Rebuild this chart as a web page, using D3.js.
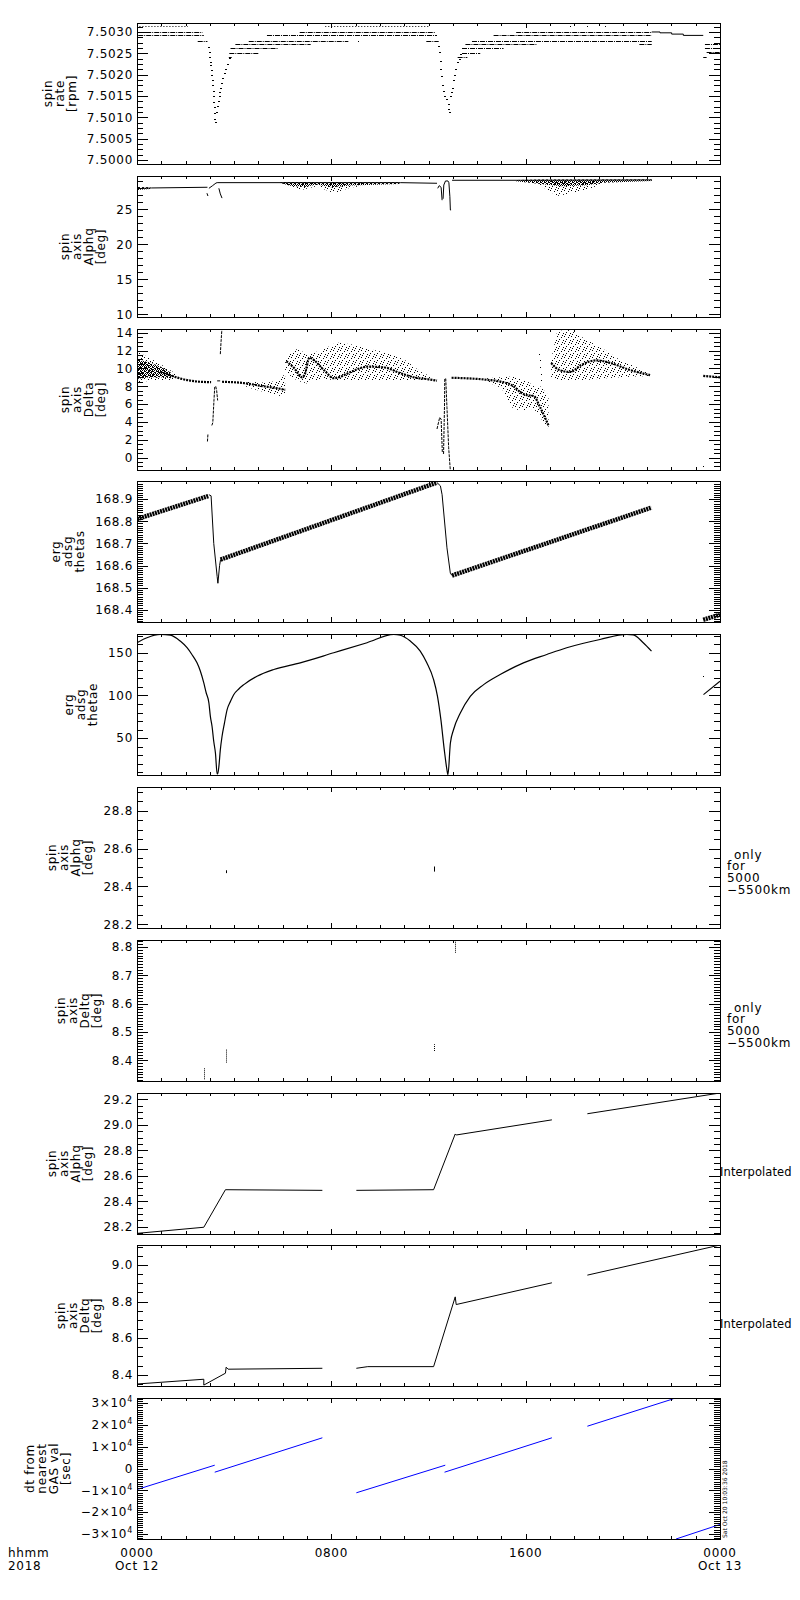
<!DOCTYPE html>
<html>
<head>
<meta charset="utf-8">
<script src="https://cdn.jsdelivr.net/npm/d3@7"></script>
<style>
  body { margin: 0; background: #fff; }
  svg { display: block; }
  text { font-family: "DejaVu Sans", sans-serif; font-size: 12px; letter-spacing: 0.7px; fill: #000; }
</style>
</head>
<body>
<div id="chart"></div>
<script>
// ---------------- data (time in hours from 0000 Oct 12) ----------------
var hourTicks = [0, 8, 16, 24];
var hourLabels = ["0000", "0800", "1600", "0000"];
var dayLabels = ["Oct 12", "", "", "Oct 13"];

// panel 1: spin rate [rpm]
var rateTicks = [7.5000, 7.5005, 7.5010, 7.5015, 7.5020, 7.5025, 7.5030];
var rateRuns = [
  [0.05, 2.70, 7.50300], [0.05, 2.75, 7.50292], [2.50, 2.90, 7.50280],
  [6.70, 12.28, 7.50300], [5.35, 12.35, 7.50292], [4.60, 8.70, 7.50280],
  [4.05, 7.15, 7.50271], [3.85, 5.80, 7.50262], [3.80, 5.00, 7.50251], [3.78, 3.90, 7.50241],
  [11.91, 12.42, 7.50280],
  [15.61, 21.19, 7.50300], [14.68, 21.19, 7.50292], [13.79, 21.19, 7.50280],
  [13.52, 16.46, 7.50271], [20.68, 21.19, 7.50271], [13.38, 15.09, 7.50262],
  [13.38, 14.13, 7.50251], [13.20, 13.60, 7.50241],
  [23.38, 24.0, 7.50271], [23.38, 24.0, 7.50262], [23.45, 24.0, 7.50252], [23.31, 23.45, 7.50241]
];
var rateSparseRuns = [[0.10, 2.10, 7.50313], [7.75, 12.07, 7.50313]];
var rateSpecks = [[17.83, 7.50313], [18.52, 7.50313], [19.27, 7.50313], [9.10, 7.50280]];
var rateDip1 = [
  [2.91, 7.50264], [2.95, 7.50252], [2.98, 7.50241], [3.00, 7.50230], [3.02, 7.50222], [3.04, 7.50210],
  [3.05, 7.50199], [3.07, 7.50188], [3.09, 7.50177], [3.11, 7.50162], [3.12, 7.50150], [3.14, 7.50137],
  [3.16, 7.50124], [3.18, 7.50110], [3.19, 7.50097], [3.20, 7.50090],
  [3.27, 7.50112], [3.30, 7.50127], [3.32, 7.50139], [3.37, 7.50150], [3.39, 7.50160], [3.41, 7.50169],
  [3.46, 7.50180], [3.50, 7.50192], [3.57, 7.50203], [3.64, 7.50214], [3.71, 7.50226], [3.78, 7.50239]
];
var rateDip2 = [
  [12.38, 7.50267], [12.42, 7.50252], [12.46, 7.50233], [12.49, 7.50214], [12.53, 7.50196],
  [12.57, 7.50177], [12.60, 7.50162], [12.64, 7.50150], [12.74, 7.50143], [12.80, 7.50131],
  [12.82, 7.50120], [12.84, 7.50112], [12.90, 7.50150], [12.92, 7.50160], [12.97, 7.50169],
  [13.01, 7.50188], [13.06, 7.50200], [13.10, 7.50214], [13.17, 7.50230], [13.24, 7.50237], [13.30, 7.50249]
];
var rateTail = [[21.19, 7.50300], [21.53, 7.50298], [22.01, 7.50295], [22.49, 7.50292], [23.31, 7.50292]];

// panel 2: spin axis alpha [deg]
var alphaTicks = [10, 15, 20, 25];
var alphaLines = [
  [[0, 27.95], [0.6, 28.05], [2.9, 28.15]],
  [[2.88, 27.3], [2.92, 26.9]],
  [[2.96, 28.0], [3.1, 28.35], [3.25, 28.75], [3.3, 28.81]],
  [[3.37, 28.0], [3.43, 27.2], [3.5, 26.6]],
  [[3.3, 28.81], [10.84, 28.81], [12.35, 28.72]],
  [[12.38, 28.0], [12.44, 28.38], [12.52, 28.14], [12.56, 26.3]],
  [[12.6, 26.5], [12.63, 28.47], [12.7, 29.05], [12.8, 29.05], [12.84, 28.8], [12.88, 26.8], [12.9, 24.9], [12.93, 24.9]],
  [[12.97, 29.15], [15.79, 29.15], [21.19, 29.2]]
];
var alphaDense = [
  [[0, 27.75, 28.2], [0.55, 27.9, 28.15]],
  [[5.9, 28.75, 28.85], [6.3, 28.35, 28.9], [6.9, 28.2, 28.9], [7.4, 28.55, 28.85], [8.0, 28.15, 28.85], [8.8, 28.4, 28.85], [10.8, 28.6, 28.85]],
  [[15.6, 29.0, 29.2], [16.6, 28.6, 29.25], [17.5, 28.3, 29.25], [18.5, 28.45, 29.25], [19.2, 28.8, 29.25], [21.19, 29.05, 29.25]]
];
var alphaSparse = [
  [[6.0, 28.5, 28.8], [6.8, 27.8, 28.8], [7.4, 28.3, 28.8], [8.1, 27.3, 28.8], [8.8, 28.1, 28.8], [9.5, 28.4, 28.8]],
  [[16.5, 28.6, 29.1], [17.3, 26.9, 29.0], [17.9, 27.3, 29.0], [18.6, 27.9, 29.0], [19.2, 28.7, 29.1]]
];

// panel 3: spin axis delta [deg]
var deltaTicks = [0, 2, 4, 6, 8, 10, 12, 14];
var deltaTrace = [
  [[0.96, 9.6], [1.4, 9.2], [1.8, 8.85], [2.4, 8.55], [3.05, 8.45]],
  [[3.5, 8.5], [4.4, 8.35], [5.2, 8.0], [5.7, 7.8], [6.1, 7.6]],
  [[6.15, 10.8], [6.45, 10.1], [6.8, 9.0], [6.9, 9.3], [7.1, 11.2], [7.25, 11.0], [7.7, 9.8], [8.1, 8.9], [8.3, 9.0],
   [8.8, 9.6], [9.5, 10.2], [10.2, 10.1], [10.8, 9.5], [11.4, 9.0], [12.07, 8.75], [12.35, 8.62]],
  [[12.95, 8.95], [14.4, 8.72], [15.0, 8.5], [15.5, 8.0], [15.8, 7.3], [16.05, 7.0], [16.33, 6.9], [16.6, 5.6], [16.94, 3.6]],
  [[17.05, 10.6], [17.4, 9.8], [17.83, 9.6], [18.3, 10.4], [18.9, 10.9], [19.5, 10.6], [20.2, 9.9], [21.12, 9.25]],
  [[23.31, 9.15], [24, 9.0]]
];
var deltaDense = [
  [[0, 8.8, 11.0], [0.5, 9.0, 10.7], [0.96, 9.0, 10.2], [1.4, 8.9, 9.5]]
];
var deltaSparse = [
  [[0, 8.4, 11.9], [0.5, 8.6, 11.2], [0.96, 8.7, 10.5], [1.6, 8.7, 9.4]],
  [[4.5, 7.9, 8.5], [5.3, 7.3, 8.4], [5.8, 6.9, 8.6], [6.1, 7.0, 9.4]],
  [[6.1, 9.6, 11.2], [6.6, 8.6, 12.2], [7.0, 8.3, 11.6], [7.6, 8.9, 12.0], [8.2, 8.6, 12.9], [8.8, 8.6, 12.7],
   [9.5, 8.6, 12.2], [10.2, 8.6, 11.8], [11.0, 8.6, 11.0], [11.7, 8.7, 9.6], [12.1, 8.7, 9.1]],
  [[14.4, 8.5, 8.9], [15.0, 7.8, 9.0], [15.5, 5.4, 9.1], [16.05, 5.3, 8.6], [16.33, 5.5, 8.0], [16.6, 4.5, 8.0], [16.94, 3.2, 7.0]],
  [[17.05, 9.0, 11.0], [17.3, 8.7, 14.2], [17.83, 8.6, 14.3], [18.5, 8.7, 13.2], [19.3, 8.9, 12.0], [19.9, 9.0, 10.9],
   [20.5, 9.1, 10.2], [21.12, 9.15, 9.4]]
];
var deltaThin = [
  [[2.90, 1.8], [2.92, 2.6]],
  [[3.08, 3.6], [3.12, 3.9], [3.17, 6.5], [3.20, 7.9], [3.24, 8.0], [3.28, 7.5], [3.32, 6.4]],
  [[3.30, 8.6], [3.45, 8.6]],
  [[3.43, 11.6], [3.46, 13.0], [3.50, 14.6]],
  [[12.35, 3.2], [12.46, 4.5], [12.52, 4.3], [12.57, 0.5]],
  [[12.62, 0.4], [12.66, 6.0], [12.67, 8.85], [12.71, 8.85], [12.76, 5.6], [12.83, 1.1], [12.90, -1.5]]
];
var deltaSpecks = [[23.31, -1.0], [16.55, 11.6], [16.58, 10.9], [16.6, 10.2], [16.62, 9.4], [16.64, 8.7]];

// panel 4: erg adsg thetas
var thetasTicks = [168.4, 168.5, 168.6, 168.7, 168.8, 168.9];
var thetasBand = [
  [[0, 168.81], [2.96, 168.915]],
  [[3.44, 168.627], [12.35, 168.975]],
  [[12.97, 168.555], [21.18, 168.862]],
  [[23.31, 168.355], [24, 168.378]]
];
var thetasDrop = [
  [[2.96, 168.92], [3.05, 168.915], [3.16, 168.70], [3.30, 168.55], [3.33, 168.52], [3.40, 168.60], [3.44, 168.627]],
  [[12.35, 168.975], [12.49, 168.96], [12.56, 168.92], [12.76, 168.68], [12.90, 168.565], [12.97, 168.555]]
];

// panel 5: erg adsg thetae
var thetaeTicks = [50, 100, 150];
var thetaeCurve = [
  [[0, 161.8], [0.41, 167.6], [0.96, 171.5], [1.37, 170.7], [1.78, 163.7], [2.06, 155.9], [2.26, 148], [2.47, 138.2],
   [2.61, 128.4], [2.75, 114.7], [2.85, 102.9], [2.96, 91.2], [3.02, 75.4], [3.09, 63.6], [3.16, 46], [3.23, 32.3],
   [3.30, 8], [3.32, 8], [3.37, 16.6], [3.43, 36.2], [3.50, 51.9], [3.60, 67.6], [3.71, 83.3], [3.85, 93.1],
   [3.98, 100.9], [4.19, 107.6], [4.40, 112.7], [4.94, 122.5], [5.63, 130.4], [6.72, 138.2], [8.10, 150],
   [9.47, 161.8], [10.57, 171.5], [10.84, 170.5], [11.25, 163.7], [11.66, 151.9], [11.93, 138.2], [12.21, 118.6],
   [12.37, 99], [12.51, 71.6], [12.65, 36.2], [12.76, 12.7], [12.80, 7], [12.90, 44], [13.03, 59.8], [13.31, 79.4],
   [13.72, 99], [14.27, 112.7], [14.95, 124.5], [15.91, 138.2], [16.87, 148], [17.69, 155.9], [19.06, 165.6],
   [20.16, 171.5], [20.43, 171], [20.84, 161.8], [21.18, 151.9]],
  [[23.32, 101], [24, 116.6]]
];
var thetaeSpecks = [[23.32, 122.5]];

// panel 6: spin axis alpha, 5000-5500 km only
var alphaOnlyTicks = [28.2, 28.4, 28.6, 28.8];
var alphaOnlyMarks = [[3.67, 28.47, 28.485], [12.21, 28.478, 28.505], [13.1, 28.915, 28.925]];

// panel 7: spin axis delta, 5000-5500 km only
var deltaOnlyTicks = [8.4, 8.5, 8.6, 8.7, 8.8];
var deltaOnlyMarks = [[2.75, 8.333, 8.374], [3.67, 8.392, 8.439], [12.21, 8.433, 8.457], [13.1, 8.78, 8.821]];

// panel 8: interpolated alpha
var alphaInterpTicks = [28.2, 28.4, 28.6, 28.8, 29.0, 29.2];
var alphaInterp = [
  [[0, 28.147], [2.75, 28.195], [3.64, 28.49], [7.63, 28.485]],
  [[9.03, 28.485], [12.21, 28.49], [13.1, 28.928], [13.14, 28.92], [17.08, 29.039]],
  [[18.54, 29.087], [24, 29.25]]
];

// panel 9: interpolated delta
var deltaInterpTicks = [8.4, 8.6, 8.8, 9.0];
var deltaInterp = [
  [[0, 8.349], [2.75, 8.375], [2.75, 8.343], [3.64, 8.408], [3.67, 8.441], [3.75, 8.43], [7.63, 8.435]],
  [[9.03, 8.435], [9.5, 8.444], [12.21, 8.444], [13.1, 8.826], [13.14, 8.784], [17.08, 8.903]],
  [[18.54, 8.945], [24, 9.11]]
];

// panel 10: dt from nearest GAS value [sec]
var dtTicks = [-30000, -20000, -10000, 0, 10000, 20000, 30000];
var dtLines = [
  [[0, -9618], [3.2, 1511]],
  [[3.2, -1694], [7.63, 14061]],
  [[9.03, -11129], [12.69, 1511]],
  [[12.66, -1694], [17.08, 14061]],
  [[18.54, 19373], [22.08, 31923]],
  [[22.19, -32300], [24, -25648]]
];

// ---------------- layout ----------------
var svgWidth = 800, svgHeight = 1600;
var plotLeft = 137, plotRight = 720;
var chartWidth = plotRight - plotLeft;
var panelHeight = 141;

var svg = d3.select("#chart").append("svg")
  .attr("width", svgWidth)
  .attr("height", svgHeight);

var defs = svg.append("defs");
function addPattern(id, size, dots) {
  var p = defs.append("pattern").attr("id", id)
    .attr("patternUnits", "userSpaceOnUse")
    .attr("width", size).attr("height", size);
  dots.forEach(function (d) {
    p.append("rect").attr("x", d[0]).attr("y", d[1]).attr("width", 1).attr("height", 1).attr("fill", "#000");
  });
}
addPattern("dense", 4, [[0, 0], [2, 0], [1, 1], [3, 1], [0, 2], [3, 2], [1, 3], [2, 3]]);
addPattern("sparse", 7, [[0, 0], [4, 1], [2, 3], [6, 4], [1, 5], [5, 6]]);

var xScale = d3.scaleLinear().domain([0, 24]).range([0, chartWidth]);

function minorValues(domain, step) {
  var out = [];
  var k0 = Math.ceil(domain[0] / step - 1e-6), k1 = Math.floor(domain[1] / step + 1e-6);
  for (var k = k0; k <= k1; k++) out.push(k * step);
  return out;
}

function lineGen(y) {
  return d3.line().x(function (d) { return xScale(d[0]); }).y(function (d) { return y(d[1]); });
}
function areaGen(y) {
  return d3.area().x(function (d) { return xScale(d[0]); })
    .y0(function (d) { return y(d[1]); }).y1(function (d) { return y(d[2]); });
}
function drawPaths(g, y, segs, width, color, dash, curve) {
  var gen = lineGen(y);
  if (curve) gen.curve(curve);
  g.selectAll(null).data(segs).enter().append("path")
    .attr("d", gen)
    .attr("fill", "none")
    .attr("stroke", color || "#000")
    .attr("stroke-width", width)
    .attr("stroke-linejoin", "round")
    .attr("stroke-dasharray", dash || null);
}
function drawBands(g, y, bands, fill) {
  g.selectAll(null).data(bands).enter().append("path")
    .attr("d", areaGen(y))
    .attr("fill", "url(#" + fill + ")");
}
function drawSpecks(g, y, pts, w, h) {
  g.selectAll(null).data(pts).enter().append("rect")
    .attr("x", function (d) { return Math.round(xScale(d[0])); })
    .attr("y", function (d) { return Math.round(y(d[1])); })
    .attr("width", w).attr("height", h)
    .attr("fill", "#000");
}
function drawMarks(g, y, marks, dash) {
  g.selectAll(null).data(marks).enter().append("line")
    .attr("x1", function (d) { return Math.round(xScale(d[0])) + 0.5; })
    .attr("x2", function (d) { return Math.round(xScale(d[0])) + 0.5; })
    .attr("y1", function (d) { return y(d[1]); })
    .attr("y2", function (d) { return y(d[2]); })
    .attr("stroke", "#000")
    .attr("stroke-dasharray", dash || null);
}
function drawRuns(g, y, runs, dash) {
  g.selectAll(null).data(runs).enter().append("line")
    .attr("x1", function (d) { return xScale(d[0]); })
    .attr("x2", function (d) { return xScale(d[1]); })
    .attr("y1", function (d) { return Math.round(y(d[2])) + 0.5; })
    .attr("y2", function (d) { return Math.round(y(d[2])) + 0.5; })
    .attr("stroke", "#000")
    .attr("stroke-dasharray", dash);
}

function fmtPow(d) {
  if (d === 0) return "0";
  return (d < 0 ? "\u2212" : "") + Math.abs(d / 10000) + "\u00d710";
}

var panels = [
  { label: ["spin", "rate", "[rpm]"], domain: [7.49991, 7.50321], ticks: rateTicks, minor: 0.000125, format: d3.format(".4f"),
    draw: function (g, y) {
      drawRuns(g, y, rateRuns, "5,1,1,1");
      drawRuns(g, y, rateSparseRuns, "1,2");
      drawSpecks(g, y, rateSpecks, 1, 1);
      drawSpecks(g, y, rateDip1, 2, 1);
      drawSpecks(g, y, rateDip2, 2, 1);
      g.append("path").datum(rateTail)
        .attr("d", lineGen(y).curve(d3.curveStepAfter))
        .attr("fill", "none").attr("stroke", "#000");
    } },
  { label: ["spin", "axis", "Alphq", "[deg]"], domain: [9.6, 29.76], ticks: alphaTicks, minor: 1, format: d3.format("d"),
    draw: function (g, y) {
      drawBands(g, y, alphaSparse, "sparse");
      drawBands(g, y, alphaDense, "dense");
      drawPaths(g, y, alphaLines, 1);
    } },
  { label: ["spin", "axis", "Delta", "[deg]"], domain: [-1.4, 14.42], ticks: deltaTicks, minor: 0.5, format: d3.format("d"),
    draw: function (g, y) {
      drawBands(g, y, deltaSparse, "sparse");
      drawBands(g, y, deltaDense, "dense");
      drawPaths(g, y, deltaTrace, 2.2, "#000", "2,1", d3.curveMonotoneX);
      drawPaths(g, y, deltaThin, 1, "#000", "3,1");
      drawSpecks(g, y, deltaSpecks, 1, 1);
    } },
  { label: ["erg", "adsg", "thetas"], domain: [168.345, 168.982], ticks: thetasTicks, minor: 0.01, format: d3.format(".1f"),
    draw: function (g, y) {
      drawPaths(g, y, thetasBand, 4.5, "#000", "2,0.7");
      drawPaths(g, y, thetasDrop, 1);
    } },
  { label: ["erg", "adsg", "thetae"], domain: [6.8, 172], ticks: thetaeTicks, minor: 10, format: d3.format("d"),
    draw: function (g, y) {
      drawPaths(g, y, thetaeCurve, 1.2, "#000", null, d3.curveMonotoneX);
      drawSpecks(g, y, thetaeSpecks, 1, 1);
    } },
  { label: ["spin", "axis", "Alphq", "[deg]"], domain: [28.18, 28.925], ticks: alphaOnlyTicks, minor: 0.05, format: d3.format(".1f"),
    note: ["only", "for", "5000", "\u22125500km"],
    draw: function (g, y) { drawMarks(g, y, alphaOnlyMarks); } },
  { label: ["spin", "axis", "Deltq", "[deg]"], domain: [8.327, 8.825], ticks: deltaOnlyTicks, minor: 0.01, format: d3.format(".1f"),
    note: ["only", "for", "5000", "\u22125500km"],
    draw: function (g, y) { drawMarks(g, y, deltaOnlyMarks, "1,1"); } },
  { label: ["spin", "axis", "Alphq", "[deg]"], domain: [28.142, 29.25], ticks: alphaInterpTicks, minor: 0.05, format: d3.format(".1f"),
    side: "Interpolated",
    draw: function (g, y) { drawPaths(g, y, alphaInterp, 1); } },
  { label: ["spin", "axis", "Deltq", "[deg]"], domain: [8.338, 9.11], ticks: deltaInterpTicks, minor: 0.05, format: d3.format(".1f"),
    side: "Interpolated",
    draw: function (g, y) { drawPaths(g, y, deltaInterp, 1); } },
  { label: ["dt from", "nearest", "GAS val", "[sec]"], domain: [-32300, 32300], ticks: dtTicks, minor: 1000, format: fmtPow, power: true,
    draw: function (g, y) { drawPaths(g, y, dtLines, 1, "#0000ff"); } }
];

panels.forEach(function (p, i) {
  var top = Math.round(23 + i * 152.8);
  var yScale = d3.scaleLinear().domain(p.domain).range([panelHeight, 0]);
  var minor = minorValues(p.domain, p.minor);

  var chartGroup = svg.append("g").attr("transform", "translate(" + plotLeft + "," + top + ")");

  chartGroup.append("clipPath").attr("id", "clip" + i)
    .append("rect").attr("width", chartWidth).attr("height", panelHeight);
  var dataGroup = chartGroup.append("g").attr("clip-path", "url(#clip" + i + ")");
  p.draw(dataGroup, yScale);

  function styleAxis(sel) {
    sel.select(".domain").remove();
    sel.attr("font-family", null).attr("font-size", null).attr("shape-rendering", "crispEdges");
  }

  // left axis: labelled majors + minors
  var yLeft = chartGroup.append("g")
    .call(d3.axisLeft(yScale).tickValues(p.ticks).tickSize(-11).tickPadding(4).tickFormat(p.format))
    .call(styleAxis);
  chartGroup.append("g")
    .call(d3.axisLeft(yScale).tickValues(minor).tickSize(-6).tickFormat(""))
    .call(styleAxis);
  if (p.power) {
    yLeft.selectAll(".tick text").filter(function (d) { return d !== 0; })
      .append("tspan").attr("dy", -5).style("font-size", "8px").text("4");
  }
  // right axis
  chartGroup.append("g").attr("transform", "translate(" + chartWidth + ",0)")
    .call(d3.axisRight(yScale).tickValues(p.ticks).tickSize(-11).tickFormat(""))
    .call(styleAxis);
  chartGroup.append("g").attr("transform", "translate(" + chartWidth + ",0)")
    .call(d3.axisRight(yScale).tickValues(minor).tickSize(-6).tickFormat(""))
    .call(styleAxis);
  // top and bottom time ticks
  var hoursMinor = d3.range(0, 25, 1);
  [[d3.axisBottom, panelHeight], [d3.axisTop, 0]].forEach(function (a) {
    chartGroup.append("g").attr("transform", "translate(0," + a[1] + ")")
      .call(a[0](xScale).tickValues(hourTicks).tickSize(-5).tickFormat(""))
      .call(styleAxis);
    chartGroup.append("g").attr("transform", "translate(0," + a[1] + ")")
      .call(a[0](xScale).tickValues(hoursMinor).tickSize(-3).tickFormat(""))
      .call(styleAxis);
  });

  // frame
  chartGroup.append("rect")
    .attr("x", 0.5).attr("y", 0.5)
    .attr("width", chartWidth).attr("height", panelHeight)
    .attr("fill", "none").attr("stroke", "#000")
    .attr("shape-rendering", "crispEdges");

  // y label, stacked rotated lines just left of the tick labels
  var minX = 0;
  yLeft.selectAll(".tick text").each(function () {
    var b = this.getBBox();
    minX = Math.min(minX, b.x);
  });
  var lastBase = plotLeft + minX - 11;
  var midY = top + panelHeight / 2;
  p.label.forEach(function (s, k) {
    svg.append("text")
      .attr("transform", "translate(" + (lastBase - (p.label.length - 1 - k) * 12) + "," + midY + ") rotate(-90)")
      .attr("text-anchor", "middle")
      .text(s);
  });

  if (p.note) {
    p.note.forEach(function (s, k) {
      svg.append("text")
        .attr("x", 727 + (k === 0 ? 7 : 0))
        .attr("y", midY + 1 + k * 11.7)
        .text(s);
    });
  }
  if (p.side) {
    svg.append("text").attr("x", 720).attr("y", midY + 12)
      .style("font-size", "11.5px").style("letter-spacing", "0.1px")
      .text(p.side);
  }

  if (i === panels.length - 1) {
    var base = top + panelHeight;
    hourTicks.forEach(function (h, k) {
      svg.append("text").attr("x", plotLeft + xScale(h)).attr("y", base + 18)
        .attr("text-anchor", "middle").text(hourLabels[k]);
      if (dayLabels[k]) {
        svg.append("text").attr("x", plotLeft + xScale(h)).attr("y", base + 31)
          .attr("text-anchor", "middle").text(dayLabels[k]);
      }
    });
    svg.append("text").attr("x", 8).attr("y", base + 18).text("hhmm");
    svg.append("text").attr("x", 8).attr("y", base + 31).text("2018");
    svg.append("text")
      .attr("transform", "translate(727," + (base - 1) + ") rotate(-90)")
      .style("font-size", "6px").style("letter-spacing", "0px")
      .text("Sat Oct 20 10:03:36 2018");
  }
});
</script>
</body>
</html>
